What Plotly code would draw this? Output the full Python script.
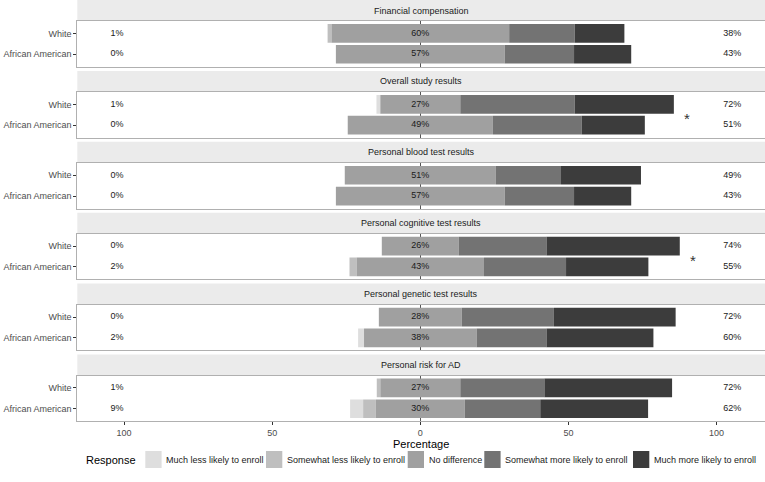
import plotly.graph_objects as go

# ---------------- data ----------------
facets = ["Financial compensation", "Overall study results", "Personal blood test results",
          "Personal cognitive test results", "Personal genetic test results", "Personal risk for AD"]
groups = ["White", "African American"]          # top row, bottom row
responses = ["Much less likely to enroll", "Somewhat less likely to enroll", "No difference",
             "Somewhat more likely to enroll", "Much more likely to enroll"]

# values per facet: [White, African American]
much_less     = [[0.0, 0.0], [1.3, 0.0], [0.0, 0.0], [0.0, 0.0], [0.0, 2.0], [0.0, 4.4]]
somewhat_less = [[1.3, 0.0], [0.0, 0.0], [0.0, 0.0], [0.0, 2.4], [0.0, 0.0], [1.2, 4.3]]
no_difference = [[60, 57], [27, 49], [51, 57], [26, 43], [28, 38], [27, 30]]
somewhat_more = [[22.1, 23.4], [38.6, 30.0], [22.0, 23.4], [29.6, 27.7], [31.1, 23.6], [28.4, 25.5]]
much_more     = [[16.8, 19.3], [33.5, 21.3], [27.0, 19.3], [45.0, 27.8], [41.1, 36.1], [43.1, 36.4]]

left_labels   = [["1%", "0%"], ["1%", "0%"], ["0%", "0%"], ["0%", "2%"], ["0%", "2%"], ["1%", "9%"]]
center_labels = [["60%", "57%"], ["27%", "49%"], ["51%", "57%"], ["26%", "43%"], ["28%", "38%"], ["27%", "30%"]]
right_labels  = [["38%", "43%"], ["72%", "51%"], ["49%", "43%"], ["74%", "55%"], ["72%", "60%"], ["72%", "62%"]]
significant   = [False, True, False, True, False, False]

tick_vals = [-100, -50, 0, 50, 100]
tick_text = ["100", "50", "0", "50", "100"]

# ---------------- style ----------------
colors = ["#DEDEDE", "#BFBFBF", "#A0A0A0", "#737373", "#3C3C3C"]
W, H = 765, 482
FONT = "Liberation Sans, Arial, sans-serif"
x_left_px, x_right_px = 77.3, 764.5
period, strip_h, panel_h = 70.9, 21.0, 45.7
x_range = [-115.8, 116.2]
border = "#B0B0B0"

fig = go.Figure()
layout_axes = {}
shapes = []
annotations = []
ypos = [2, 1]

for i, facet in enumerate(facets):
    sfx = "" if i == 0 else str(i + 1)
    xa, ya = "x" + sfx, "y" + sfx
    n = no_difference[i]
    half = [v / 2 for v in n]
    sl, ml = somewhat_less[i], much_less[i]
    sm, mm = somewhat_more[i], much_more[i]
    segs = [
        (ml, [-half[k] - sl[k] - ml[k] for k in range(2)]),
        (sl, [-half[k] - sl[k] for k in range(2)]),
        (n, [-half[k] for k in range(2)]),
        (sm, [half[k] for k in range(2)]),
        (mm, [half[k] + sm[k] for k in range(2)]),
    ]
    for r, (vals, base) in enumerate(segs):
        fig.add_trace(go.Bar(
            orientation="h", x=vals, base=base, y=ypos, width=0.9,
            marker=dict(color=colors[r], line=dict(width=0)),
            name=responses[r], showlegend=False, hoverinfo="skip",
            xaxis=xa, yaxis=ya))
    # text labels
    fig.add_trace(go.Scatter(x=[-104.6, -104.6], y=ypos, mode="text", text=left_labels[i],
                             textposition="middle right", textfont=dict(size=9, color="#1A1A1A", family=FONT),
                             showlegend=False, hoverinfo="skip", xaxis=xa, yaxis=ya))
    fig.add_trace(go.Scatter(x=[0, 0], y=ypos, mode="text", text=center_labels[i],
                             textposition="middle center", textfont=dict(size=9, color="#1A1A1A", family=FONT),
                             showlegend=False, hoverinfo="skip", xaxis=xa, yaxis=ya))
    fig.add_trace(go.Scatter(x=[105.3, 105.3], y=ypos, mode="text", text=right_labels[i],
                             textposition="middle center", textfont=dict(size=9, color="#1A1A1A", family=FONT),
                             showlegend=False, hoverinfo="skip", xaxis=xa, yaxis=ya))
    if significant[i]:
        end = max(half[k] + sm[k] + mm[k] for k in range(2))
        annotations.append(dict(x=end + 4.5, y=1.5, xref=xa, yref=ya, text="*", showarrow=False,
                                yshift=-4, font=dict(size=15, color="#333333", family=FONT)))

    top = i * period
    last = (i == len(facets) - 1)
    layout_axes["xaxis" + sfx] = dict(
        domain=[x_left_px / W, x_right_px / W], range=x_range, anchor=ya, automargin=False,
        showline=True, mirror=True, linecolor=border, linewidth=1,
        zeroline=True, zerolinecolor="#555555", zerolinewidth=1, showgrid=False,
        tickvals=tick_vals, ticktext=tick_text, showticklabels=last,
        ticks="outside" if last else "", ticklen=3, tickcolor="#333333",
        tickfont=dict(size=9, color="#4D4D4D", family=FONT),
        **({} if i == 0 else {"matches": "x"}))
    layout_axes["yaxis" + sfx] = dict(
        domain=[1 - (top + strip_h + panel_h) / H, 1 - (top + strip_h) / H],
        range=[0.4, 2.6], anchor=xa, tickvals=ypos, ticktext=groups, automargin=False,
        showline=True, mirror=True, linecolor=border, linewidth=1,
        zeroline=False, showgrid=False, ticks="outside", ticklen=3, tickcolor="#333333",
        tickfont=dict(size=9, color="#4D4D4D", family=FONT))
    # strip
    shapes.append(dict(type="rect", xref="paper", yref="paper",
                       x0=x_left_px / W, x1=1.0, y0=1 - (top + strip_h) / H, y1=1 - top / H,
                       fillcolor="#EBEBEB", line=dict(width=0), layer="below"))
    annotations.append(dict(x=(x_left_px + W) / 2 / W, y=1 - (top + strip_h / 2) / H,
                            xref="paper", yref="paper", text=facet, showarrow=False,
                            xanchor="center", yanchor="middle",
                            font=dict(size=9, color="#1A1A1A", family=FONT)))

# axis title
annotations.append(dict(x=(x_left_px + x_right_px) / 2 / W, y=1 - 444 / H, xref="paper", yref="paper",
                        text="Percentage", showarrow=False, xanchor="center", yanchor="middle",
                        font=dict(size=11, color="#000000", family=FONT)))

# legend (drawn manually)
key_left = [145.3, 266.0, 407.7, 484.3, 633.0]
key_w, key_top, key_bot = 16.3, 451.0, 468.0
annotations.append(dict(x=138 / W, y=1 - 459.5 / H, xref="paper", yref="paper", text="Response",
                        showarrow=False, xanchor="right", yanchor="middle",
                        font=dict(size=11, color="#000000", family=FONT)))
for r in range(5):
    shapes.append(dict(type="rect", xref="paper", yref="paper",
                       x0=key_left[r] / W, x1=(key_left[r] + key_w) / W,
                       y0=1 - key_bot / H, y1=1 - key_top / H,
                       fillcolor=colors[r], line=dict(width=0)))
    annotations.append(dict(x=(key_left[r] + key_w + 2.5) / W, y=1 - 459.5 / H, xref="paper", yref="paper",
                            text=responses[r], showarrow=False, xanchor="left", yanchor="middle",
                            font=dict(size=9, color="#1A1A1A", family=FONT)))

fig.update_layout(
    width=W, height=H, margin=dict(l=0, r=0, t=0, b=0, autoexpand=False),
    paper_bgcolor="white", plot_bgcolor="white", barmode="overlay",
    shapes=shapes, annotations=annotations, showlegend=False,
    font=dict(family=FONT), **layout_axes)

fig.write_html("out.html", config={"displayModeBar": False},
               post_script="document.body.style.margin='0';document.body.style.overflow='hidden';")
